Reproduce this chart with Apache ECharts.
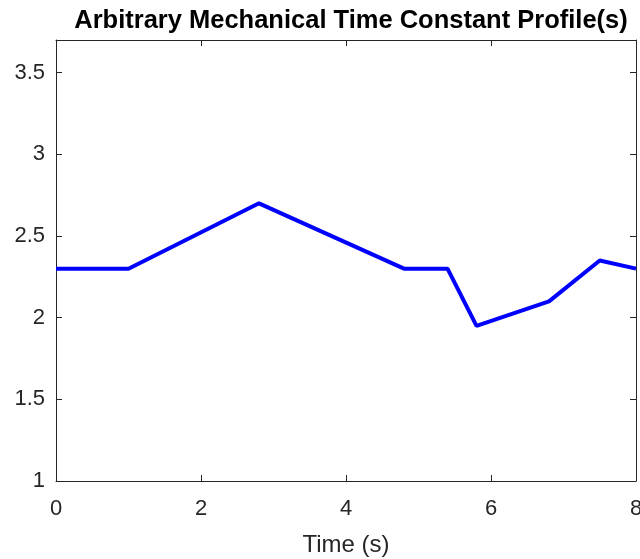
<!DOCTYPE html>
<html>
<head>
<meta charset="utf-8">
<script src="https://cdn.jsdelivr.net/npm/echarts@6/dist/echarts.min.js"></script>
<style>
  html, body { margin: 0; padding: 0; background: #ffffff; overflow: hidden; }
  #chart { width: 640px; height: 559px; }
</style>
</head>
<body>
<div id="chart"></div>
<script>
// Time breakpoints (s) and the mechanical time constant at each breakpoint
const timeValues = [0, 1, 2.8, 4.8, 5.4, 5.8, 6.8, 7.5, 8];
const tauValues = [2.3, 2.3, 2.7, 2.3, 2.3, 1.95, 2.1, 2.35, 2.3];

const titleText = 'Arbitrary Mechanical Time Constant Profile(s)';
const xAxisName = 'Time (s)';

const axisColor = '#262626';
const fontFamily = 'Liberation Sans, Arial, Helvetica, sans-serif';

const chart = echarts.init(document.getElementById('chart'), null, { renderer: 'canvas', width: 640, height: 559 });

// Shared style for the four sides of the box: thin dark line, inward ticks
const boxAxisCommon = {
  axisLine: { show: true, onZero: false, lineStyle: { color: axisColor, width: 1 } },
  axisTick: { show: true, inside: true, length: 6, lineStyle: { color: axisColor, width: 1 } },
  splitLine: { show: false }
};

chart.setOption({
  animation: false,
  backgroundColor: '#ffffff',
  title: {
    text: titleText,
    left: 351,
    textAlign: 'center',
    top: 8,
    padding: 0,
    textStyle: { fontFamily: fontFamily, fontSize: 25.5, fontWeight: 'bold', color: '#000000' }
  },
  // fixed plot box; labels may run past the canvas edge
  grid: { left: 56, width: 580, top: 40, bottom: 78, containLabel: false, outerBoundsMode: 'none' },
  xAxis: [
    Object.assign({
      type: 'value', position: 'bottom', min: 0, max: 8, interval: 2,
      name: xAxisName, nameLocation: 'middle', nameGap: 52,
      nameTextStyle: { fontFamily: fontFamily, fontSize: 24, color: axisColor },
      axisLabel: { margin: 17, fontFamily: fontFamily, fontSize: 22, color: axisColor }
    }, boxAxisCommon),
    Object.assign({
      type: 'value', position: 'top', min: 0, max: 8, interval: 2,
      axisLabel: { show: false }
    }, boxAxisCommon)
  ],
  yAxis: [
    Object.assign({
      type: 'value', position: 'left', min: 1, max: 3.7, interval: 0.5,
      axisLabel: {
        margin: 11, fontFamily: fontFamily, fontSize: 22, color: axisColor,
        formatter: function (v) { return v > 3.6 ? '' : String(v); }
      }
    }, boxAxisCommon),
    Object.assign({
      type: 'value', position: 'right', min: 1, max: 3.7, interval: 0.5,
      axisLabel: { show: false }
    }, boxAxisCommon)
  ],
  series: [{
    type: 'line',
    data: timeValues.map((t, i) => [t, tauValues[i]]),
    showSymbol: false,
    lineStyle: { color: '#0000ff', width: 4 },
    itemStyle: { color: '#0000ff' },
    clip: false
  }]
});
</script>
</body>
</html>
